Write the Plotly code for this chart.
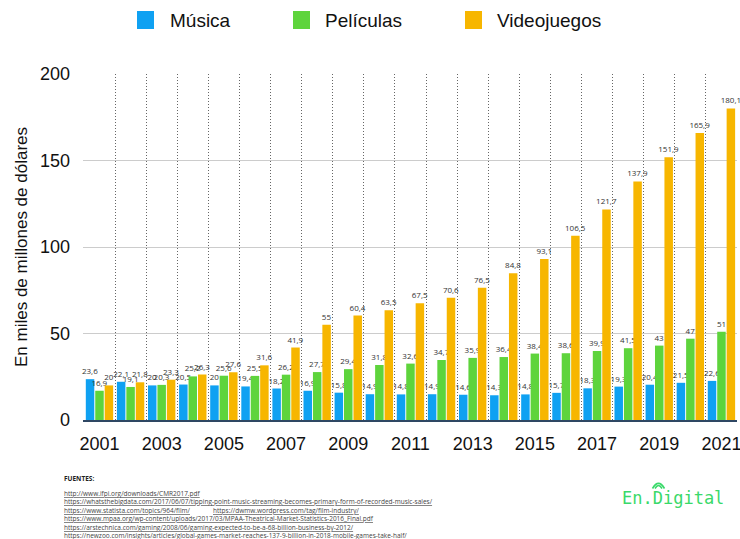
import plotly.graph_objects as go

# ---------------- data ----------------
years = list(range(2001, 2022))
musica = [23.6, 22.1, 20, 20.5, 20, 19.4, 18.2, 16.9, 15.8, 14.9, 14.8,
          14.9, 14.6, 14.3, 14.8, 15.7, 18.3, 19.3, 20.4, 21.5, 22.6]
peliculas = [16.9, 19.1, 20.3, 25.2, 25.6, 25.5, 26.2, 27.7, 29.4, 31.8, 32.6,
             34.7, 35.9, 36.4, 38.4, 38.6, 39.9, 41.5, 43, 47, 51]
videojuegos = [20, 21.8, 23.3, 26.3, 27.6, 31.6, 41.9, 55, 60.4, 63.5, 67.5,
               70.6, 76.5, 84.8, 93.1, 106.5, 121.7, 137.9, 151.9, 165.9, 180.1]
series_names = ["Música", "Películas", "Videojuegos"]
x_tick_vals = list(range(2001, 2022, 2))
y_tick_vals = [0, 50, 100, 150, 200]
y_title = "En miles de millones de dólares"
sources_title = "FUENTES:"
sources = [
    ["http://www.ifpi.org/downloads/CMR2017.pdf"],
    ["https://whatsthebigdata.com/2017/06/07/tipping-point-music-streaming-becomes-primary-form-of-recorded-music-sales/"],
    ["https://www.statista.com/topics/964/film/", "https://dwmw.wordpress.com/tag/film-industry/"],
    ["https://www.mpaa.org/wp-content/uploads/2017/03/MPAA-Theatrical-Market-Statistics-2016_Final.pdf"],
    ["https://arstechnica.com/gaming/2008/06/gaming-expected-to-be-a-68-billion-business-by-2012/"],
    ["https://newzoo.com/insights/articles/global-games-market-reaches-137-9-billion-in-2018-mobile-games-take-half/"],
]
logo_text = "En.Digital"

# ---------------- style ----------------
colors = ["#0fa1f2", "#5ed43c", "#f7b600"]
logo_color = "#3ad96a"
W, H = 740, 539
ML, MR, MT, MB = 83, 3, 74, 119
PW, PH = W - ML - MR, H - MT - MB


def px(x):
    return (x - ML) / PW


def py(y):
    return 1 - (y - MT) / PH


def fmt(v):
    return f"{v:g}".replace(".", ",")


fig = go.Figure()
for name, vals, col in zip(series_names, [musica, peliculas, videojuegos], colors):
    fig.add_trace(go.Bar(
        x=years, y=vals, name=name, marker_color=col, marker_line_width=0,
        text=[fmt(v) for v in vals], textposition="outside", textangle=0,
        constraintext="none", cliponaxis=False,
        textfont=dict(family="Open Sans", size=8, color="#333333"),
        showlegend=False,
    ))

shapes = []
annotations = []

# manual legend
leg = [(137, 168), (293, 323), (465, 495)]
for (sx, tx), name, col in zip(leg, series_names, colors):
    shapes.append(dict(type="rect", xref="paper", yref="paper",
                       x0=px(sx), x1=px(sx + 17), y0=py(29), y1=py(11),
                       fillcolor=col, line_width=0))
    annotations.append(dict(text=name, xref="paper", yref="paper",
                            x=px(tx), y=py(20.5), xanchor="left", yanchor="middle",
                            showarrow=False,
                            font=dict(family="Liberation Sans", size=19, color="#111111")))

# sources
annotations.append(dict(text=f"<b>{sources_title}</b>", xref="paper", yref="paper",
                        x=px(62), y=py(478), xanchor="left", yanchor="middle",
                        showarrow=False,
                        font=dict(family="Open Sans", size=6.5, color="#222222")))
line_y = [493, 501.5, 510, 518.5, 527, 535]
for i, (parts, yy) in enumerate(zip(sources, line_y)):
    xs = [62, 211]
    for j, p in enumerate(parts):
        t = p if i == len(sources) - 1 else f"<u>{p}</u>"
        annotations.append(dict(text=t, xref="paper", yref="paper",
                                x=px(xs[j]), y=py(yy), xanchor="left", yanchor="middle",
                                showarrow=False,
                                font=dict(family="Open Sans", size=6.5, color="#444444")))

# logo
annotations.append(dict(text=logo_text, xref="paper", yref="paper",
                        x=px(673), y=py(498), xanchor="center", yanchor="middle",
                        showarrow=False,
                        font=dict(family="DejaVu Sans Mono", size=17, color=logo_color)))
cx = 658.5
for r, yb in [(6, 488.5), (3.5, 488.5)]:
    path = (f"M {px(cx - r)},{py(yb)} Q {px(cx)},{py(yb - 1.7 * r)} {px(cx + r)},{py(yb)}")
    shapes.append(dict(type="path", xref="paper", yref="paper", path=path,
                       line=dict(color=logo_color, width=1.6)))

fig.update_layout(
    width=W, height=H,
    margin=dict(l=ML, r=MR, t=MT, b=MB, autoexpand=False),
    paper_bgcolor="white", plot_bgcolor="white",
    barmode="group", bargap=0.09, bargroupgap=0.1,
    showlegend=False,
    shapes=shapes, annotations=annotations,
    xaxis=dict(
        range=[2000.47, 2021.5], tickmode="array", tickvals=x_tick_vals,
        showgrid=False, zeroline=False, showline=True,
        linecolor="#2e4763", linewidth=2, ticks="",
        ticklabelstandoff=6, ticklabeloverflow="allow",
        tickfont=dict(family="Liberation Sans", size=18, color="#111111"),
        minor=dict(tick0=2000.5, dtick=1, showgrid=True, griddash="1px,2px",
                   gridcolor="#666666", gridwidth=1, ticks=""),
    ),
    yaxis=dict(
        range=[0, 200], tickmode="array", tickvals=y_tick_vals,
        showgrid=True, gridcolor="#cccccc", gridwidth=1,
        zeroline=False, showline=False, ticks="", ticklabelstandoff=12,
        tickfont=dict(family="Liberation Sans", size=18, color="#111111"),
        title=dict(text=y_title, standoff=8,
                   font=dict(family="Liberation Sans", size=17, color="#111111")),
        automargin=False,
    ),
)

fig.write_html("out.html", config={"displayModeBar": False},
               post_script="document.body.style.margin='0';")
